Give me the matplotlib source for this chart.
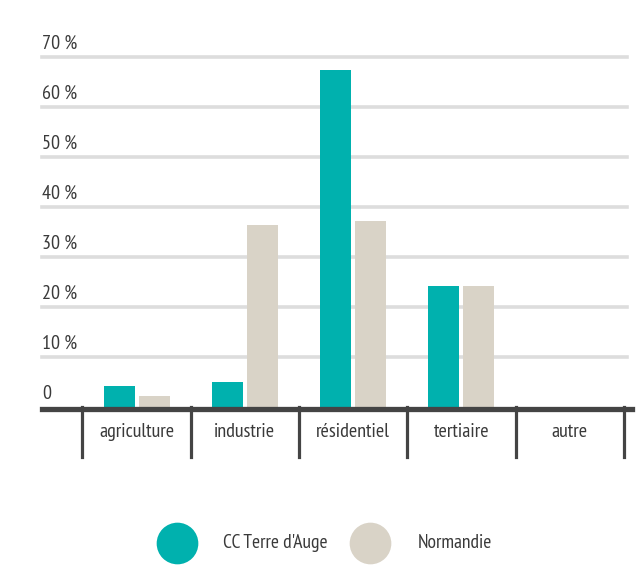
import numpy as np
import matplotlib
matplotlib.use("Agg")
import matplotlib.pyplot as plt
from matplotlib.lines import Line2D

plt.rcParams['font.family'] = ['PT Sans Narrow', 'DejaVu Sans']

categories = ["agriculture", "industrie", "résidentiel", "tertiaire", "autre"]
cc_terre = [4.2, 5.1, 67.5, 24.3, 0]
normandie = [2.2, 36.4, 37.3, 24.3, 0]
series_names = ["CC Terre d'Auge", "Normandie"]
yticks = [0, 10, 20, 30, 40, 50, 60, 70]
ytick_labels = ["0", "10 %", "20 %", "30 %", "40 %", "50 %", "60 %", "70 %"]

teal = "#00b1ae"
beige = "#d9d3c7"
dark = "#444444"
txt = "#3a3a3a"
fs = 14.5

W, H = 637, 568
fig = plt.figure(figsize=(W / 100, H / 100), dpi=100)

# axes placed in pixel terms
px10 = 50.0
y0 = 407.0
ytop = 72
left_px, right_px = 42, 632
ax = fig.add_axes([left_px / W, (H - y0) / H, (right_px - left_px) / W, ytop * px10 / 10 / H])

step = 108.3
c0 = 136.5
ax.set_xlim((left_px - c0) / step, (right_px - c0) / step)
ax.set_ylim(0, ytop)

x = np.arange(len(categories))
bw = 31 / step
off = 17.5 / step
ax.bar(x - off, cc_terre, bw, color=teal, zorder=3)
ax.bar(x + off, normandie, bw, color=beige, zorder=3)

grid_end = (627 - left_px) / (right_px - left_px)
for t, lab in zip(yticks, ytick_labels):
    if t > 0:
        ax.axhline(t, xmax=grid_end, color="#dddddd", lw=2.6, zorder=1, clip_on=False)
    ax.annotate(lab, xy=(0, t), xycoords=ax.get_yaxis_transform(),
                xytext=(0, 4), textcoords="offset pixels",
                ha="left", va="bottom", fontsize=fs, color=txt)

# baseline
ax.axhline(-2.2 / px10 * 10, color=dark, lw=3.8, zorder=4, clip_on=False)

# category separators and labels below the axis
for b in np.arange(len(categories) + 1) - 0.5:
    ax.plot([b, b], [0, -49.5 / px10 * 10], color=dark, lw=2.3, clip_on=False, zorder=4)
for i, c in enumerate(categories):
    ax.text(i, -25 / px10 * 10, c, ha="center", va="center", fontsize=fs, color=txt)

ax.set_axis_off()

# legend
leg_y = 1 - 543 / H
for cx, tx, col, name in [(177, 223, teal, series_names[0]), (370, 418, beige, series_names[1])]:
    fig.add_artist(Line2D([cx / W], [leg_y], marker="o", markersize=30, color=col,
                          markeredgewidth=0, linestyle="none", transform=fig.transFigure))
    fig.text(tx / W, leg_y, name, ha="left", va="center", fontsize=14, color=txt)

fig.savefig("out.png", dpi=100)
